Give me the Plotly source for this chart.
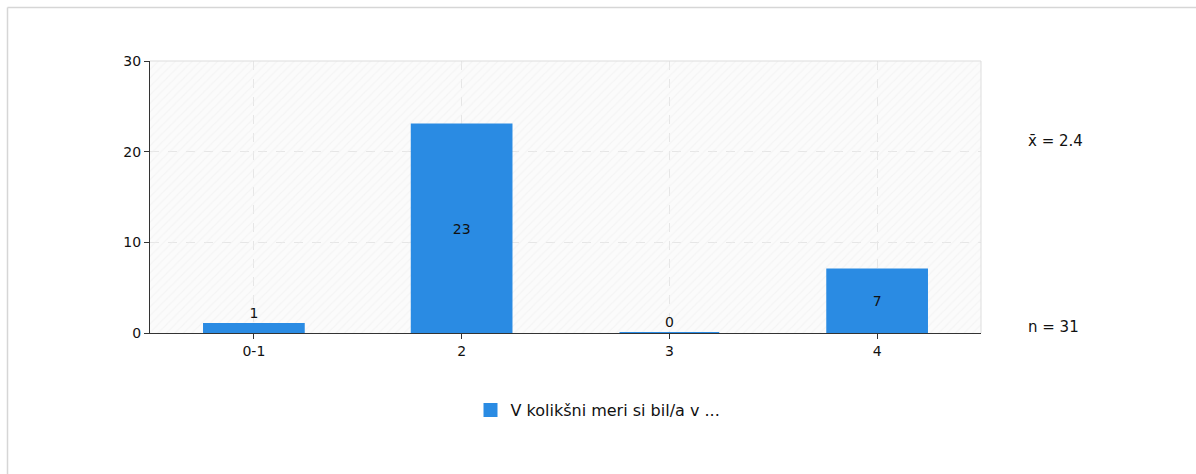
import plotly.graph_objects as go

categories = ["0-1", "2", "3", "4"]
values = [1, 23, 0, 7]
label_pos = ["outside", "inside", "outside", "inside"]
series_name = "V kolikšni meri si bil/a v ..."
mean_text = "x̄ = 2.4"
n_text = "n = 31"
y_ticks = [0, 10, 20, 30]

W, H = 1196, 474
L, R, T, B = 150, 215, 61, 141
pw, ph = W - L - R, H - T - B

def px(x):
    return (x - L) / pw

def py(y):
    return (H - B - y) / ph

xs = list(range(len(categories)))
FAM = "DejaVu Sans, Verdana, sans-serif"
font = dict(family=FAM, size=14, color="#111111")

fig = go.Figure()
# hatched background
fig.add_trace(go.Bar(
    x=[(len(categories) - 1) / 2], y=[y_ticks[-1]], width=[len(categories)],
    marker=dict(color="rgba(0,0,0,0)", line=dict(width=0),
                pattern=dict(shape="/", fgcolor="#eeeeee", bgcolor="rgba(0,0,0,0)",
                             size=6, solidity=0.2)),
    showlegend=False, hoverinfo="skip",
))
fig.add_trace(go.Bar(
    x=xs, y=values, width=0.48, name=series_name,
    marker=dict(color="#2a8be3", line=dict(width=2, color="#2a8be3")),
    text=[str(v) for v in values], textposition=label_pos,
    insidetextanchor="middle", cliponaxis=False,
    textfont=dict(family=FAM, size=14, color="#111111"),
))
fig.update_layout(
    width=W, height=H, barmode="overlay",
    margin=dict(l=L, r=R, t=T, b=B, autoexpand=False),
    paper_bgcolor="white", plot_bgcolor="#fbfbfb",
    font=font,
    legend=dict(orientation="h", x=px(598), xanchor="center", y=py(410), yanchor="middle",
                font=dict(family=FAM, size=16, color="#111111"),
                itemwidth=30),
    xaxis=dict(range=[-0.5, len(categories) - 0.5], tickvals=xs, ticktext=categories,
               showgrid=True, gridcolor="#e6e6e6", griddash="dash", gridwidth=1,
               showline=True, linecolor="#333333", linewidth=1,
               ticks="outside", ticklen=5, tickcolor="#333333",
               zeroline=False, fixedrange=True),
    yaxis=dict(range=[0, y_ticks[-1]], tickvals=y_ticks,
               showgrid=True, gridcolor="#e6e6e6", griddash="dash", gridwidth=1,
               showline=True, linecolor="#333333", linewidth=1,
               ticks="outside", ticklen=5, tickcolor="#333333",
               zeroline=False, fixedrange=True),
    shapes=[
        dict(type="line", xref="paper", yref="paper", x0=0, x1=1, y0=1, y1=1,
             line=dict(color="#dddddd", width=1)),
        dict(type="line", xref="paper", yref="paper", x0=1, x1=1, y0=0, y1=1,
             line=dict(color="#dddddd", width=1)),
        dict(type="line", xref="paper", yref="paper", x0=px(7.5), x1=px(W + 5), y0=py(7.5), y1=py(7.5),
             line=dict(color="#d6d6d6", width=1.5)),
        dict(type="line", xref="paper", yref="paper", x0=px(7.5), x1=px(7.5), y0=py(7.5), y1=py(H + 5),
             line=dict(color="#d6d6d6", width=1.5)),
    ],
    annotations=[
        dict(text=mean_text, xref="paper", yref="paper", x=px(1026), y=py(141),
             xanchor="left", yanchor="middle", showarrow=False,
             font=dict(family=FAM, size=15, color="#111111")),
        dict(text=n_text, xref="paper", yref="paper", x=px(1026), y=py(327),
             xanchor="left", yanchor="middle", showarrow=False,
             font=dict(family=FAM, size=15, color="#111111")),
    ],
)
fig.write_html("out.html")
